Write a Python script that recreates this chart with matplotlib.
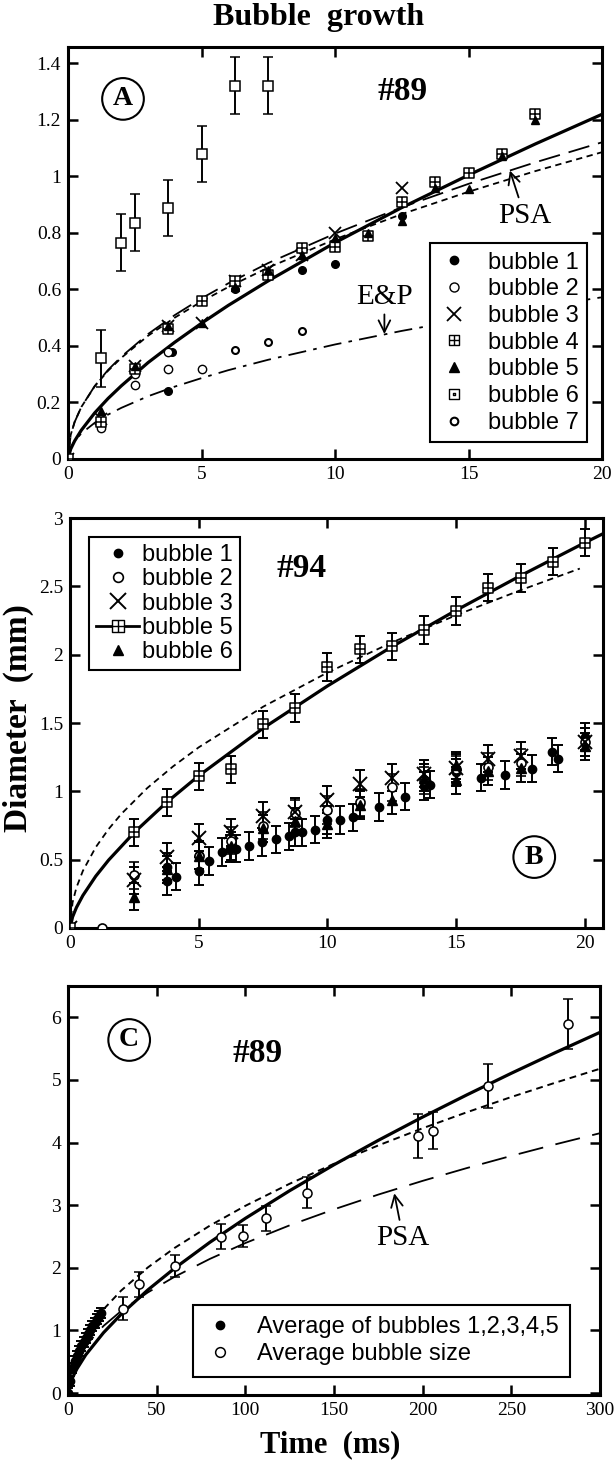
import matplotlib
matplotlib.use('Agg')
import matplotlib.pyplot as plt
from matplotlib.path import Path
from matplotlib.lines import Line2D
from matplotlib.ticker import FuncFormatter

plt.rcParams['font.family'] = ['Liberation Serif', 'DejaVu Serif']

# ---------------- Panel A data (#89) ----------------
a_b1_t = [3.75, 3.9, 6.25, 8.75, 10.0, 12.5]
a_b1_y = [0.24, 0.38, 0.60, 0.67, 0.69, 0.86]
a_b2_t = [1.25, 2.5, 2.5, 3.75, 3.75, 5.0]
a_b2_y = [0.11, 0.26, 0.30, 0.32, 0.38, 0.32]
a_b3_t = [0, 1.25, 2.5, 3.75, 5.0, 6.25, 7.5, 8.75, 10.0, 12.5]
a_b3_y = [0, 0.14, 0.33, 0.47, 0.48, 0.63, 0.67, 0.72, 0.80, 0.96]
a_b4_t = [0, 1.25, 2.5, 3.75, 5.0, 6.25, 7.5, 8.75, 10.0, 11.25, 12.5, 13.75, 15.0, 16.25, 17.5]
a_b4_y = [0, 0.13, 0.32, 0.46, 0.56, 0.63, 0.65, 0.745, 0.75, 0.79, 0.91, 0.98, 1.01, 1.08, 1.22]
a_b5_t = [1.25, 2.5, 3.75, 5.0, 6.25, 7.5, 8.75, 10.0, 11.25, 12.5, 13.75, 15.0, 16.25, 17.5]
a_b5_y = [0.17, 0.33, 0.47, 0.48, 0.61, 0.67, 0.72, 0.78, 0.80, 0.84, 0.96, 0.955, 1.07, 1.20]
a_b6_t = [1.25, 2.0, 2.5, 3.75, 5.0, 6.25, 7.5]
a_b6_y = [0.356, 0.765, 0.836, 0.887, 1.078, 1.32, 1.32]
a_b6_err = [0.1, 0.1, 0.1, 0.1, 0.1, 0.1, 0.1]
a_b7_t = [6.25, 7.5, 8.75]
a_b7_y = [0.386, 0.415, 0.454]

a_curve_t = [0, 0.1, 0.25, 0.5, 1, 1.5, 2, 3, 4, 5, 6, 7.5, 10, 12.5, 15, 17.5, 20]
a_solid_y = [0, 0.035, 0.064, 0.102, 0.163, 0.214, 0.259, 0.341, 0.413, 0.480, 0.543, 0.630,
             0.765, 0.889, 1.004, 1.114, 1.219]
a_short_y = [0, 0.085, 0.132, 0.184, 0.257, 0.312, 0.358, 0.436, 0.500, 0.557, 0.608, 0.677,
             0.777, 0.866, 0.945, 1.018, 1.085]
a_psa_y = [0, 0.084, 0.131, 0.184, 0.258, 0.315, 0.362, 0.442, 0.509, 0.568, 0.621, 0.693,
           0.797, 0.890, 0.973, 1.049, 1.120]
a_ep_y = [0, 0.040, 0.064, 0.0905, 0.128, 0.157, 0.181, 0.222, 0.256, 0.286, 0.314, 0.351,
          0.405, 0.453, 0.496, 0.535, 0.572]

# ---------------- Panel B data (#94) ----------------
b_b1_t = [3.75, 3.75, 4.1, 5.0, 5.0, 5.4, 5.9, 6.2, 6.45, 6.95, 7.45, 8.0, 8.5, 8.75, 9.0, 9.5,
          10.0, 10.5, 11.0, 11.25, 12.0, 13.0, 13.75, 14.0, 15.0, 15.95, 16.9, 17.95, 18.7, 18.95, 20.0]
b_b1_y = [0.45, 0.345, 0.375, 0.533, 0.418, 0.49, 0.557, 0.58, 0.58, 0.60, 0.63, 0.65, 0.67, 0.70,
          0.70, 0.72, 0.79, 0.79, 0.81, 0.91, 0.885, 0.96, 1.04, 1.05, 1.14, 1.10, 1.12, 1.165,
          1.29, 1.24, 1.40]
b_b2_t = [1.25, 2.5, 5.0, 6.25, 7.5, 8.75, 10.0, 11.25, 12.5, 13.75, 15.0, 16.25, 17.5, 20.0]
b_b2_y = [0.0, 0.385, 0.53, 0.64, 0.75, 0.84, 0.864, 0.92, 1.03, 1.08, 1.16, 1.18, 1.21, 1.36]
b_b3_t = [0, 2.5, 3.75, 5.0, 6.25, 7.5, 8.75, 10.0, 11.25, 12.5, 13.75, 15.0, 16.25, 17.5, 20.0]
b_b3_y = [0, 0.35, 0.52, 0.66, 0.70, 0.82, 0.85, 0.94, 1.056, 1.10, 1.13, 1.17, 1.24, 1.26, 1.36]
b_b5_t = [0, 2.5, 3.75, 5.0, 6.25, 7.5, 8.75, 10.0, 11.25, 12.5, 13.75, 15.0, 16.25, 17.5, 18.75, 20.0]
b_b5_y = [0, 0.70, 0.92, 1.11, 1.16, 1.49, 1.61, 1.91, 2.04, 2.06, 2.18, 2.32, 2.49, 2.56, 2.68, 2.82]
b_b6_t = [2.5, 3.75, 5.0, 6.25, 7.5, 8.75, 10.0, 11.25, 12.5, 13.75, 15.0, 15.0, 16.25, 17.5, 20.0]
b_b6_y = [0.23, 0.43, 0.53, 0.60, 0.73, 0.78, 0.76, 0.90, 0.934, 1.10, 1.08, 1.19, 1.15, 1.17, 1.33]

b_solid_t = [0, 0.1, 0.25, 0.5, 1, 1.5, 2.5, 3.75, 5, 7.5, 10, 12.5, 15, 17.5, 20, 20.7]
b_solid_y = [0, 0.081, 0.150, 0.238, 0.379, 0.497, 0.700, 0.919, 1.114, 1.462, 1.771, 2.058,
             2.325, 2.578, 2.820, 2.885]
b_short_t = [0, 0.1, 0.25, 0.5, 1, 1.5, 2, 3, 4, 5, 7.5, 10, 12.5, 15, 17.5, 19.8]
b_short_y = [0, 0.187, 0.296, 0.418, 0.591, 0.724, 0.836, 1.024, 1.182, 1.322, 1.619, 1.869,
             2.089, 2.289, 2.472, 2.630]

# ---------------- Panel C data (#89) ----------------
c_avg15_t = [0, 1.25, 2.5, 3.75, 5.0, 6.25, 7.5, 8.75, 10.0, 11.25, 12.5, 13.75, 15.0, 16.25, 17.5, 18.75]
c_avg15_y = [0, 0.20, 0.40, 0.52, 0.60, 0.68, 0.75, 0.82, 0.88, 0.95, 1.00, 1.07, 1.12, 1.18, 1.23, 1.28]
c_avg15_err = [0.08] * 16
c_avg_t = [31, 40, 60.5, 86, 98.6, 111.4, 135, 197.5, 205.8, 236.7, 281.8]
c_avg_y = [1.35, 1.74, 2.03, 2.50, 2.51, 2.79, 3.20, 4.10, 4.19, 4.90, 5.90]
c_avg_err = [0.18, 0.2, 0.18, 0.2, 0.18, 0.2, 0.25, 0.35, 0.3, 0.35, 0.4]

c_curve_t = [0, 1, 2.5, 5, 10, 20, 30, 45, 60, 80, 100, 125, 150, 175, 200, 225, 250, 275, 300]
c_solid_y = [0, 0.133, 0.245, 0.386, 0.611, 0.964, 1.260, 1.647, 1.991, 2.408, 2.790, 3.232,
             3.646, 4.036, 4.408, 4.763, 5.107, 5.439, 5.76]
c_short_y = [0, 0.299, 0.473, 0.669, 0.946, 1.337, 1.638, 2.006, 2.316, 2.674, 2.990, 3.343,
             3.662, 3.955, 4.229, 4.485, 4.728, 4.958, 5.179]
c_psa_y = [0, 0.240, 0.379, 0.536, 0.758, 1.072, 1.312, 1.607, 1.856, 2.143, 2.396, 2.679,
           2.934, 3.170, 3.389, 3.594, 3.788, 3.973, 4.150]

legend_a = ['bubble 1', 'bubble 2', 'bubble 3', 'bubble 4', 'bubble 5', 'bubble 6', 'bubble 7']
legend_b = ['bubble 1', 'bubble 2', 'bubble 3', 'bubble 5', 'bubble 6']
legend_c = ['Average of bubbles 1,2,3,4,5', 'Average bubble size']

# ---------------- markers ----------------
M, L, C = Path.MOVETO, Path.LINETO, Path.CLOSEPOLY
SQ_PLUS = Path([(-1, -1), (1, -1), (1, 1), (-1, 1), (-1, -1), (0, -1), (0, 1), (-1, 0), (1, 0)],
               [M, L, L, L, C, M, L, M, L])
SQ_DOT = Path([(-1, -1), (1, -1), (1, 1), (-1, 1), (-1, -1),
               (-0.3, -0.3), (0.3, -0.3), (0.3, 0.3), (-0.3, 0.3), (-0.3, -0.3)],
              [M, L, L, L, C, M, L, L, L, C])

FW, FH = 616, 1468
fig = plt.figure(figsize=(FW / 100, FH / 100), dpi=100)


def add_ax(l, r, t, b):
    return fig.add_axes([l / FW, 1 - b / FH, (r - l) / FW, (b - t) / FH])


def style(ax):
    for s in ax.spines.values():
        s.set_linewidth(2.2)
    ax.tick_params(direction='in', length=7, width=1.8, top=True, right=True,
                   labelsize=14, pad=5)
    ax.yaxis.set_major_formatter(FuncFormatter(lambda v, p: '%g' % v))
    ax.xaxis.set_major_formatter(FuncFormatter(lambda v, p: '%g' % v))


sans = {'family': 'Liberation Sans', 'size': 17}
ebkw = dict(ecolor='black', elinewidth=1.4, capsize=3.5, capthick=1.4, linestyle='none')
circ = dict(boxstyle='circle,pad=0.3', fc='none', ec='black', lw=1.5)
legkw = dict(prop=sans, frameon=True, fancybox=False, edgecolor='black', framealpha=1,
             borderaxespad=0.0)

# ================= Panel A =================
axA = add_ax(68, 602, 47, 459)
style(axA)
axA.set_xlim(0, 20)
axA.set_ylim(0, 1.457)
axA.set_xticks([0, 5, 10, 15, 20])
axA.set_yticks([0, 0.2, 0.4, 0.6, 0.8, 1.0, 1.2, 1.4])

axA.plot(a_curve_t, a_solid_y, color='black', lw=2.3, zorder=3)
axA.plot(a_curve_t, a_short_y, color='black', lw=1.3, dashes=(3.5, 2.5), zorder=3)
axA.plot(a_curve_t, a_psa_y, color='black', lw=1.3, dashes=(12, 5), zorder=3)
axA.plot(a_curve_t, a_ep_y, color='black', lw=1.3, dashes=(10, 4, 2, 4), zorder=3)

axA.plot(a_b1_t, a_b1_y, 'o', color='black', ms=5.5, zorder=4)
axA.plot(a_b2_t, a_b2_y, 'o', mfc='white', mec='black', mew=1.0, ms=6, zorder=4)
axA.plot(a_b3_t, a_b3_y, 'x', color='black', mew=1.3, ms=9, zorder=4)
axA.plot(a_b4_t, a_b4_y, marker=SQ_PLUS, ls='none', mfc='white', mec='black', mew=1.1, ms=6.5, zorder=4)
axA.plot(a_b5_t, a_b5_y, '^', color='black', ms=6, zorder=4)
axA.errorbar(a_b6_t, a_b6_y, yerr=a_b6_err, fmt='s', mfc='white', mec='black', mew=1.1, ms=6.5,
             zorder=4, **ebkw)
axA.plot(a_b7_t, a_b7_y, 'o', mfc='white', mec='black', mew=1.5, ms=5, zorder=4)

hA = [Line2D([], [], ls='none', marker='o', color='black', ms=6),
      Line2D([], [], ls='none', marker='o', mfc='white', mec='black', mew=1.0, ms=6.5),
      Line2D([], [], ls='none', marker='x', color='black', mew=1.3, ms=10),
      Line2D([], [], ls='none', marker=SQ_PLUS, mfc='white', mec='black', mew=1.0, ms=7),
      Line2D([], [], ls='none', marker='^', color='black', ms=6.5),
      Line2D([], [], ls='none', marker=SQ_DOT, mfc='white', mec='black', mew=1.0, ms=7),
      Line2D([], [], ls='none', marker='o', mfc='white', mec='black', mew=1.5, ms=5.5)]
legA = axA.legend(hA, legend_a, loc='lower right', bbox_to_anchor=(0.972, 0.041),
                  handlelength=1.3, handletextpad=0.8, labelspacing=0.2, borderpad=0.35, **legkw)
legA.get_frame().set_linewidth(1.5)
legA.set_zorder(6)

axA.text(0.103, 0.874, 'A', transform=axA.transAxes, fontsize=20, fontweight='bold',
         ha='center', va='center', bbox=circ)
axA.text(0.627, 0.891, '#89', transform=axA.transAxes, fontsize=24, fontweight='bold',
         ha='center', va='center')
axA.annotate('PSA', xy=(16.55, 1.02), xytext=(17.1, 0.86), fontsize=21, ha='center', va='center',
             arrowprops=dict(arrowstyle='->', color='black', lw=1.3, shrinkA=2, shrinkB=0))
axA.annotate('E&P', xy=(11.85, 0.442), xytext=(11.85, 0.572), fontsize=21, ha='center', va='center',
             arrowprops=dict(arrowstyle='->', color='black', lw=1.3, shrinkA=1, shrinkB=0))

# ================= Panel B =================
axB = add_ax(70, 603, 518, 928)
style(axB)
axB.set_xlim(0, 20.7)
axB.set_ylim(0, 3)
axB.set_xticks([0, 5, 10, 15, 20])
axB.set_yticks([0, 0.5, 1, 1.5, 2, 2.5, 3])

axB.plot(b_solid_t, b_solid_y, color='black', lw=2.3, zorder=3)
axB.plot(b_short_t, b_short_y, color='black', lw=1.3, dashes=(3.5, 2.5), zorder=3)

b_err1 = [0.1] * len(b_b1_t)
axB.errorbar(b_b1_t, b_b1_y, yerr=b_err1, fmt='o', color='black', ms=6, zorder=4, **ebkw)
b_err2 = [0.0] + [0.1] * (len(b_b2_t) - 1)
axB.errorbar(b_b2_t, b_b2_y, yerr=b_err2, fmt='o', mfc='white', mec='black', mew=1.2, ms=6.5,
             zorder=4, **ebkw)
b_err3 = [0.0] + [0.1] * (len(b_b3_t) - 1)
axB.errorbar(b_b3_t, b_b3_y, yerr=b_err3, fmt='x', color='black', mew=1.4, ms=10, zorder=4, **ebkw)
b_err6 = [0.1] * len(b_b6_t)
axB.errorbar(b_b6_t, b_b6_y, yerr=b_err6, fmt='^', color='black', ms=6.5, zorder=4, **ebkw)
b_err5 = [0.0] + [0.1] * (len(b_b5_t) - 1)
axB.errorbar(b_b5_t, b_b5_y, yerr=b_err5, fmt='none', zorder=4, **ebkw)
axB.plot(b_b5_t, b_b5_y, marker=SQ_PLUS, ls='none', mfc='white', mec='black', mew=1.1, ms=7.5, zorder=5)

hB = [Line2D([], [], ls='none', marker='o', color='black', ms=6),
      Line2D([], [], ls='none', marker='o', mfc='white', mec='black', mew=1.2, ms=7),
      Line2D([], [], ls='none', marker='x', color='black', mew=1.4, ms=11),
      Line2D([], [], ls='-', lw=2.0, color='black', marker=SQ_PLUS, mfc='white', mec='black',
             mew=1.0, ms=8),
      Line2D([], [], ls='none', marker='^', color='black', ms=6.5)]
legB = axB.legend(hB, legend_b, loc='upper left', bbox_to_anchor=(0.036, 0.954),
                  handlelength=1.8, handletextpad=0.15, labelspacing=0.1, borderpad=0.3, **legkw)
legB.get_frame().set_linewidth(1.5)
legB.set_zorder(6)

axB.text(0.871, 0.173, 'B', transform=axB.transAxes, fontsize=20, fontweight='bold',
         ha='center', va='center', bbox=circ)
axB.text(0.435, 0.878, '#94', transform=axB.transAxes, fontsize=24, fontweight='bold',
         ha='center', va='center')

# ================= Panel C =================
axC = add_ax(68, 600, 986, 1395)
style(axC)
axC.set_xlim(0, 300)
axC.set_ylim(-0.03, 6.5)
axC.set_xticks([0, 50, 100, 150, 200, 250, 300])
axC.set_yticks([0, 1, 2, 3, 4, 5, 6])

axC.plot(c_curve_t, c_solid_y, color='black', lw=2.3, zorder=3)
axC.plot(c_curve_t, c_short_y, color='black', lw=1.4, dashes=(3.5, 2.5), zorder=3)
axC.plot(c_curve_t, c_psa_y, color='black', lw=1.3, dashes=(14, 7), zorder=3)

axC.errorbar(c_avg15_t, c_avg15_y, yerr=c_avg15_err, fmt='o', color='black', ms=6, zorder=4, **ebkw)
axC.errorbar(c_avg_t, c_avg_y, yerr=c_avg_err, fmt='o', mfc='white', mec='black', mew=1.1, ms=6.5,
             zorder=4, **ebkw)

hC = [Line2D([], [], ls='none', marker='o', color='black', ms=6),
      Line2D([], [], ls='none', marker='o', mfc='white', mec='black', mew=1.1, ms=7)]
legC = axC.legend(hC, legend_c, loc='lower right', bbox_to_anchor=(0.944, 0.044),
                  handlelength=1.3, handletextpad=0.9, labelspacing=0.2, borderpad=0.5, **legkw)
legC.get_frame().set_linewidth(1.5)
legC.set_zorder(6)

axC.text(0.115, 0.868, 'C', transform=axC.transAxes, fontsize=20, fontweight='bold',
         ha='center', va='center', bbox=circ)
axC.text(0.357, 0.836, '#89', transform=axC.transAxes, fontsize=24, fontweight='bold',
         ha='center', va='center')
axC.annotate('PSA', xy=(184, 3.19), xytext=(189, 2.47), fontsize=21, ha='center', va='center',
             arrowprops=dict(arrowstyle='->', color='black', lw=1.3, shrinkA=2, shrinkB=0))

# ================= Figure text =================
fig.text(319 / FW, 1 - 18 / FH, 'Bubble  growth', fontsize=23, fontweight='bold',
         ha='center', va='center')
fig.text(18 / FW, 1 - 718 / FH, 'Diameter  (mm)', fontsize=24, fontweight='bold',
         ha='center', va='center', rotation=90)
fig.text(330 / FW, 1 - 1445 / FH, 'Time  (ms)', fontsize=22, fontweight='bold',
         ha='center', va='center')

fig.savefig('out.png', dpi=100)
